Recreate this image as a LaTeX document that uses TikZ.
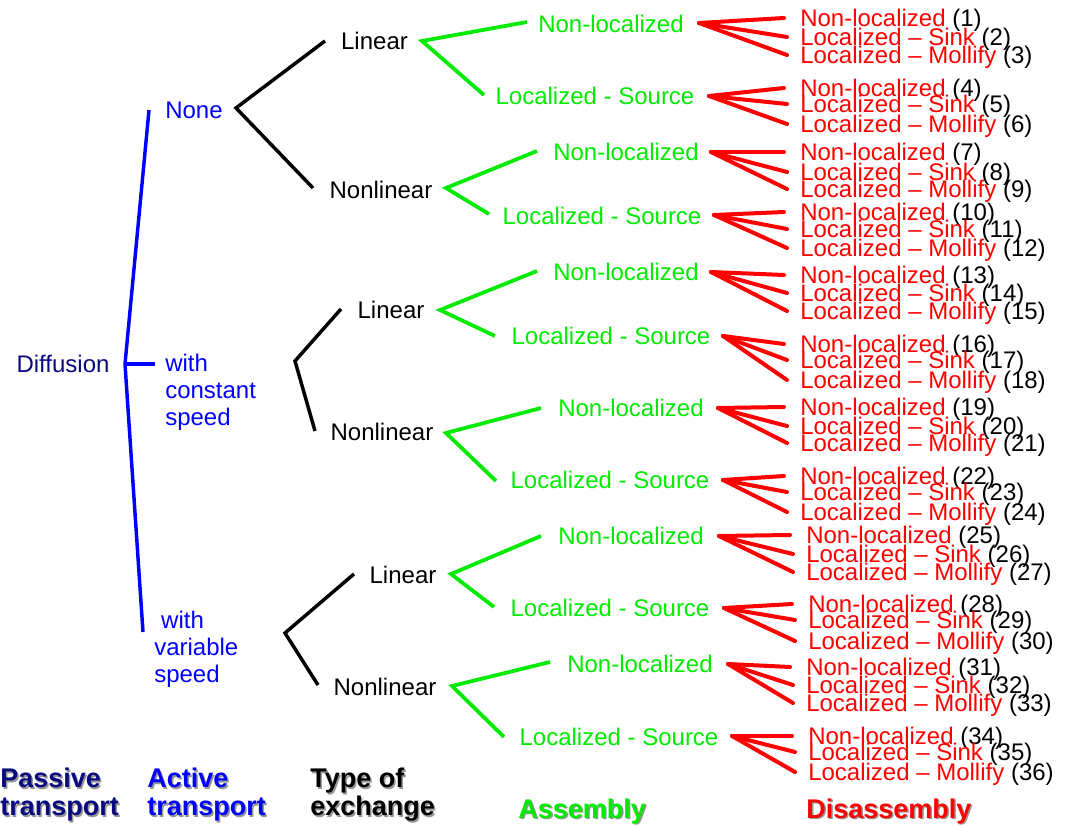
\documentclass[tikz,border=0pt]{standalone}
\usepackage{fontspec}
\setmainfont{Liberation Sans}
\usetikzlibrary{calc}
\definecolor{navy}{RGB}{10,10,128}
\definecolor{tblue}{RGB}{0,0,255}
\definecolor{tgreen}{RGB}{0,235,0}
\definecolor{tred}{RGB}{255,0,0}
\definecolor{shade}{RGB}{150,150,150}
\tikzset{
  lbl/.style={inner sep=0pt, font=\fontsize{18pt}{20.25pt}\selectfont},
  multi/.style={lbl, align=left, anchor=north west},
  head/.style={inner sep=0pt, align=left, anchor=north west, font=\fontsize{20.25pt}{21pt}\selectfont\bfseries},
  headone/.style={inner sep=0pt, anchor=base west, font=\fontsize{20.25pt}{21pt}\selectfont\bfseries},
  redrow/.style={lbl, anchor=base west, text=black},
  blueline/.style={draw=tblue, line width=2.6pt, line join=miter},
  blackline/.style={draw=black, line width=2.6pt, line join=miter},
  greenline/.style={draw=tgreen, line width=2.8pt, line join=miter},
  redline/.style={draw=tred, line width=3pt, line cap=round},
}
\begin{document}
\begin{tikzpicture}[x=0.75pt,y=-0.75pt]
\useasboundingbox (0,0) rectangle (1068,827);

% ---------- Passive / active transport ----------
\node[lbl, text=navy] (diff) at (63,364) {Diffusion};
\node[lbl, text=tblue] (none) at (194,110) {None};
\node[multi, text=tblue] (const) at (165,354) {with\\constant\\speed};
\node[multi, text=tblue] (var) at (154,611) {\hspace{5.2pt}with\\variable\\speed};

\coordinate (btop) at (149,110);
\coordinate (bmid) at (125,364);
\coordinate (bbot) at (143,632);
\coordinate (bcon) at (155,364);
\draw[blueline] (btop) -- (bmid) -- (bbot);
\draw[blueline] (bmid) -- (bcon);

% ---------- Type of exchange ----------
\node[lbl] (lin1) at (374.5,41) {Linear};
\node[lbl] (non1) at (381,190) {Nonlinear};
\node[lbl] (lin2) at (391,310) {Linear};
\node[lbl] (non2) at (382,432) {Nonlinear};
\node[lbl] (lin3) at (403,575) {Linear};
\node[lbl] (non3) at (385,687) {Nonlinear};

\coordinate (k1) at (236,108); \coordinate (k1a) at (325,41);  \coordinate (k1b) at (313,188);
\coordinate (k2) at (295,361); \coordinate (k2a) at (341,309); \coordinate (k2b) at (315,431);
\coordinate (k3) at (285,633); \coordinate (k3a) at (354,574); \coordinate (k3b) at (318,685);
\draw[blackline] (k1a) -- (k1) -- (k1b);
\draw[blackline] (k2a) -- (k2) -- (k2b);
\draw[blackline] (k3a) -- (k3) -- (k3b);

% ---------- Assembly ----------
\foreach \i/\vx/\vy/\ux/\uy/\dx/\dy/\nx/\ny/\sx/\sy in {
  1/422/41/527/22/484/95/611/24/595/96,
  2/446/188/537/151/489/214/626/152/602/216,
  3/440/310/537/271/495/336/626/272/611/336,
  4/446/433/541/408/496/481/631/408/610/480,
  5/451/574/541/536/494/607/631/536/610/608,
  6/452/686/550/662/504/737/640/664/619/737}
{
  \node[lbl, text=tgreen] (gn\i) at (\nx,\ny) {Non-localized};
  \node[lbl, text=tgreen] (gs\i) at (\sx,\sy) {Localized - Source};
  \coordinate (gv\i) at (\vx,\vy);
  \coordinate (gu\i) at (\ux,\uy);
  \coordinate (gd\i) at (\dx,\dy);
  \draw[greenline] (gu\i) -- (gv\i) -- (gd\i);
}

% ---------- Disassembly ----------
\foreach \i/\vx/\vy/\tx/\ra/\rb/\rc in {
  1/699/23/800/18/37/55,
  2/709/96/800/88/104/124,
  3/711/152/800/152/172/189,
  4/714/215/800/212/229/248,
  5/711/272/800/275/293/311,
  6/723/336/800/344/360/380,
  7/718/408/800/407/426/443,
  8/723/480/800/476/492/512,
  9/719/536/806/535/554/572,
  10/724/608/808/604/620/641,
  11/728/664/806/667/685/703,
  12/732/736/808/736/752/772}
{
  \pgfmathtruncatemacro{\na}{3*\i-2}
  \pgfmathtruncatemacro{\nb}{3*\i-1}
  \pgfmathtruncatemacro{\nc}{3*\i}
  \node[redrow] (ra\i) at (\tx,\ra+8.5) {\textcolor{tred}{Non-localized} (\na)};
  \node[redrow] (rb\i) at (\tx,\rb+8.5) {\textcolor{tred}{Localized – Sink} (\nb)};
  \node[redrow] (rc\i) at (\tx,\rc+8.5) {\textcolor{tred}{Localized – Mollify} (\nc)};
  \coordinate (rv\i) at (\vx,\vy);
  \coordinate (rea\i) at (\tx-16,\ra);
  \coordinate (reb\i) at (\tx-13,\rb);
  \coordinate (rec\i) at (\tx-13,\rc);
  \draw[redline] (rv\i) -- (rea\i);
  \draw[redline] (rv\i) -- (reb\i);
  \draw[redline] (rv\i) -- (rec\i);
}

% ---------- Column headings ----------
\node[head, text=shade] at (1.5,769.5) {Passive\\transport};
\node[head, text=navy] (hpass) at (0,768) {Passive\\transport};
\node[head, text=shade] at (148.5,769.5) {Active\\transport};
\node[head, text=tblue] (hact) at (147,768) {Active\\transport};
\node[head, text=shade] at (311.5,769.5) {Type of\\exchange};
\node[head, text=black] (htype) at (310,768) {Type of\\exchange};
\node[headone, text=shade] at (519.5,819.5) {Assembly};
\node[headone, text=tgreen] (hasm) at (518,818) {Assembly};
\node[headone, text=shade] at (807.5,819.5) {Disassembly};
\node[headone, text=tred] (hdis) at (806,818) {Disassembly};
\end{tikzpicture}
\end{document}
